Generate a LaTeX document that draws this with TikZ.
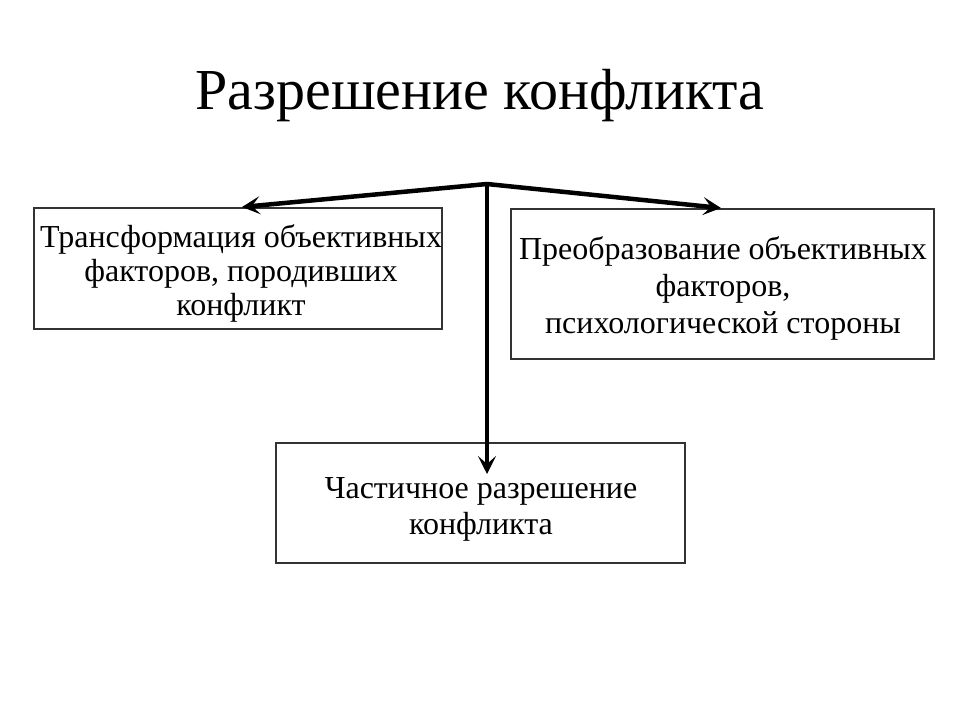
\documentclass[tikz,border=0pt]{standalone}
\usepackage{fontspec}
\setmainfont{Liberation Serif}
\usetikzlibrary{arrows.meta}
\begin{document}
\begin{tikzpicture}[x=1pt,y=-1pt,
  box/.style={draw=black!80,line width=1.3pt},
  txt/.style={font=\fontsize{32}{34}\selectfont,align=center,inner sep=0pt},
  conn/.style={line width=4.5pt,-{Stealth[length=18pt,width=18pt,inset=8pt]}}]
\useasboundingbox (0,0) rectangle (960,720);
\node[inner sep=0pt,font=\fontsize{58}{66}\selectfont] (title) at (480,96) {Разрешение конфликта};
\draw[box] (34,208) rectangle (442,329);
\draw[box] (511,209) rectangle (934,359);
\draw[box] (276,443) rectangle (685,563);
\node[txt] (l) at (241,273) {Трансформация объективных\\факторов, породивших\\конфликт};
\node[txt,font=\fontsize{32}{37}\selectfont] (r) at (723,288) {Преобразование объективных\\факторов,\hspace*{20pt}\\психологической стороны};
\node[txt,font=\fontsize{32}{36}\selectfont] (b) at (481,509) {Частичное разрешение\\конфликта};
\coordinate (hub) at (487,184);
\coordinate (lt) at (242,207);
\coordinate (rt) at (721,208);
\coordinate (bt) at (487,474);
\draw[conn] (hub) -- (lt);
\draw[conn] (hub) -- (rt);
\draw[conn] (hub) -- (bt);
\end{tikzpicture}
\end{document}
